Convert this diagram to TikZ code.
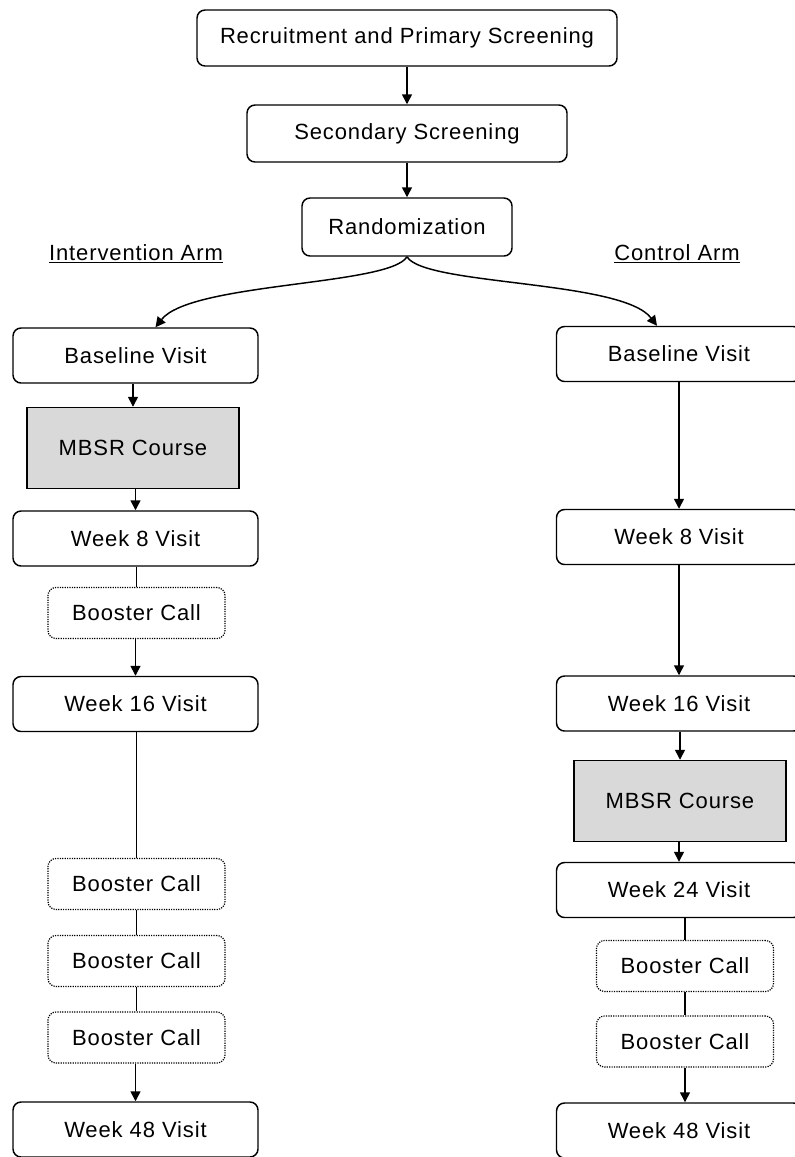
\documentclass[tikz,border=0pt]{standalone}
\usepackage{fontspec}
\setmainfont{Liberation Sans}[LetterSpace=4]
\usetikzlibrary{arrows.meta}
\tikzset{
  box/.style={draw,line width=1.1pt,rounded corners=6pt,inner sep=0pt},
  visit/.style={box,minimum width=183.75pt,minimum height=41.25pt},
  booster/.style={box,line width=0.9pt,dash pattern=on 0.9pt off 0.9pt,minimum width=132.75pt,minimum height=38.25pt},
  course/.style={draw,line width=1.1pt,fill=black!15,minimum width=159pt,minimum height=60.75pt},
  tip/.style={-{Triangle[length=7.5pt,width=7.5pt]}}
}
\begin{document}
\begin{tikzpicture}[x=0.75pt,y=-0.75pt,line width=1.1pt,font=\fontsize{16.5}{20}\selectfont]
      \useasboundingbox (0,0) rectangle (794,1157);
      \node[box,minimum width=315pt,minimum height=42pt] (rec) at (407,38) {Recruitment and Primary Screening};
      \node[box,minimum width=240pt,minimum height=42.75pt] (sec) at (407,133.5) {Secondary Screening};
      \node[box,minimum width=157.5pt,minimum height=43.5pt] (rand) at (407,227) {Randomization};
      \node (intarm) at (136,254) {\underline{Intervention Arm}};
      \node (ctlarm) at (677,254) {\underline{Control Arm}};
      % intervention arm
      \node[visit] (base1) at (135.5,355.5) {Baseline Visit};
      \node[course] (mbsr1) at (133,448) {MBSR Course};
      \node[visit] (wk8a) at (135.5,538.5) {Week 8 Visit};
      \node[booster] (call1) at (136.5,613) {Booster Call};
      \node[visit] (wk16a) at (135.5,704) {Week 16 Visit};
      \foreach \n/\y in {2/884,3/961,4/1037.5}
        \node[booster] (call\n) at (136.5,\y) {Booster Call};
      \node[visit] (wk48a) at (135.5,1129.5) {Week 48 Visit};
      % control arm
      \node[visit] (base2) at (679,354) {Baseline Visit};
      \node[visit] (wk8b) at (679,537) {Week 8 Visit};
      \node[visit] (wk16b) at (679,703.5) {Week 16 Visit};
      \node[course] (mbsr2) at (680,801) {MBSR Course};
      \node[visit] (wk24b) at (679,890) {Week 24 Visit};
      \foreach \n/\y in {5/966,6/1041.5}
        \node[booster] (call\n) at (685,\y) {Booster Call};
      \node[visit] (wk48b) at (679,1130.5) {Week 48 Visit};
      \draw[tip] (rec) -- (sec);
      \draw[tip] (sec) -- (rand);
      \draw[tip] (rand.south) .. controls +(-17,29) and +(35,-45) .. ([xshift=15pt]base1.north);
      \draw[tip] (rand.south) .. controls +(17,29) and +(-35,-46) .. ([xshift=-16.5pt]base2.north);
      \foreach \a/\b in {base1/mbsr1,mbsr1/wk8a,call1/wk16a,call4/wk48a,
                         base2/wk8b,wk8b/wk16b,wk16b/mbsr2,mbsr2/wk24b}
        \draw[tip] (\b.north |- \a.south) -- (\b.north);
      \foreach \a/\b in {wk8a/call1,wk16a/call2,call2/call3,call3/call4}
        \draw (\b.north |- \a.south) -- (\b.north);
      \draw (wk24b.south -| call5.north) -- (call5.north);
      \draw (call5.south) -- (call6.north);
      \draw[tip] (call6.south) -- (call6.south |- wk48b.north);
    \end{tikzpicture}
\end{document}
